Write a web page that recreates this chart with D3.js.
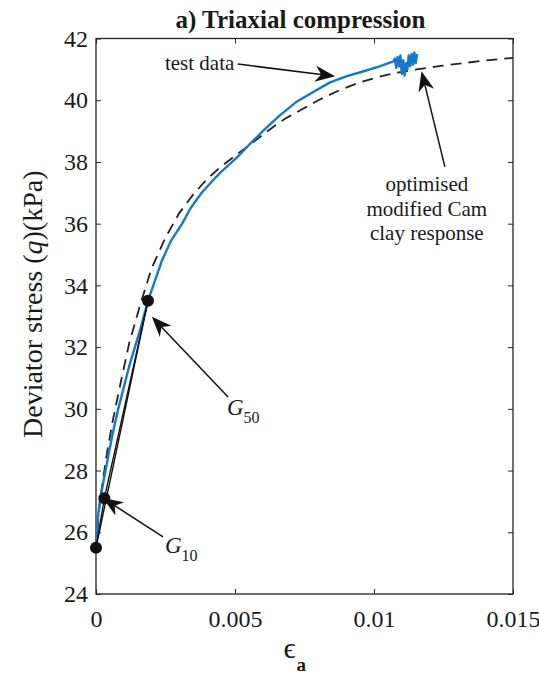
<!DOCTYPE html>
<html>
<head>
  <meta charset="utf-8">
  <script src="https://d3js.org/d3.v7.min.js"></script>
  <style>
    body { margin: 0; background: #fff; }
    text { font-family: "Liberation Serif", "DejaVu Serif", serif; fill: #1a1a1a; }
    .tick line { stroke: #262626; }
  </style>
</head>
<body>
<div id="chart"></div>
<script>
  // test data (blue curve): axial strain and deviator stress
  var testEps = [0, 0.00005, 0.00012, 0.0002, 0.0003, 0.00045, 0.0006, 0.0008, 0.001, 0.0012,
    0.0014, 0.0016, 0.00187, 0.0021, 0.00237, 0.0027, 0.0031, 0.0034, 0.0038, 0.0042,
    0.0045, 0.0048, 0.0051, 0.0055, 0.006, 0.0066, 0.0072, 0.0078, 0.0084, 0.009,
    0.0096, 0.0102, 0.0107, 0.01075, 0.0108, 0.01085, 0.0109, 0.01095, 0.011, 0.01105,
    0.0111, 0.01115, 0.0112, 0.01125, 0.0113, 0.01135, 0.0114, 0.01145, 0.0115, 0.01155];
  var testQ = [25.5, 26.3, 26.9, 27.3, 27.8, 28.5, 29.2, 30.0, 30.7, 31.4,
    32.0, 32.6, 33.5, 34.1, 34.8, 35.45, 36.0, 36.5, 37.0, 37.4,
    37.68, 37.92, 38.17, 38.55, 39.0, 39.5, 39.94, 40.26, 40.57, 40.77,
    40.93, 41.1, 41.26, 41.35, 41.05, 41.4, 41.1, 41.45, 40.85, 41.3,
    40.8, 41.2, 41.0, 41.45, 41.1, 41.5, 41.15, 41.55, 41.2, 41.5];

  // optimised modified Cam clay response (dashed)
  var modelEps = [0, 0.0001, 0.0002, 0.0004, 0.0006, 0.0009, 0.0012, 0.0016, 0.002, 0.0025,
    0.003, 0.0035, 0.004, 0.0045, 0.005, 0.0056, 0.0062, 0.0068, 0.0074, 0.008,
    0.0087, 0.0094, 0.0101, 0.0108, 0.0116, 0.0124, 0.0132, 0.014, 0.015];
  var modelQ = [25.5, 26.6, 27.4, 28.6, 29.6, 30.9, 32.15, 33.4, 34.55, 35.55,
    36.35, 36.95, 37.45, 37.85, 38.2, 38.6, 39.02, 39.4, 39.7, 40.0,
    40.3, 40.55, 40.74, 40.89, 41.01, 41.11, 41.2, 41.29, 41.37];

  // secant stiffness points: start, G10, G50
  var pointEps = [0, 0.0003, 0.00187];
  var pointQ = [25.5, 27.1, 33.5];

  var xTicks = [0, 0.005, 0.01, 0.015];
  var xTickLabels = ["0", "0.005", "0.01", "0.015"];
  var yTicks = [24, 26, 28, 30, 32, 34, 36, 38, 40, 42];

  var W = 539, H = 677;
  var margin = {left: 96, top: 38.5, right: 26, bottom: 83};

  var svg = d3.select("#chart").append("svg")
    .attr("width", W)
    .attr("height", H);

  var x = d3.scaleLinear().domain([0, 0.015]).range([margin.left, W - margin.right]);
  var y = d3.scaleLinear().domain([24, 42]).range([H - margin.bottom, margin.top]);

  var x0 = x.range()[0], x1 = x.range()[1], y0 = y.range()[0], y1 = y.range()[1];

  // axes, ticks pointing inwards on all four sides
  var gx = svg.append("g").attr("transform", "translate(0," + y0 + ")")
    .call(d3.axisBottom(x).tickValues(xTicks).tickSize(-5).tickPadding(16)
      .tickFormat(function (d, i) {return xTickLabels[i];}));
  gx.selectAll("text").attr("font-size", 24).attr("dy", "0.71em")
    .style("font-family", '"Liberation Serif", serif');

  var gy = svg.append("g").attr("transform", "translate(" + x0 + ",0)")
    .call(d3.axisLeft(y).tickValues(yTicks).tickSize(-5).tickPadding(8));
  gy.selectAll("text").attr("font-size", 24)
    .style("font-family", '"Liberation Serif", serif');

  svg.append("g").attr("transform", "translate(0," + y1 + ")")
    .call(d3.axisTop(x).tickValues(xTicks).tickSize(-5).tickFormat(""));
  svg.append("g").attr("transform", "translate(" + x1 + ",0)")
    .call(d3.axisRight(y).tickValues(yTicks).tickSize(-5).tickFormat(""));

  svg.selectAll(".domain").remove();
  svg.selectAll(".tick line").attr("stroke", "#262626").attr("stroke-width", 1);

  // frame
  svg.append("rect")
    .attr("x", x0).attr("y", y1)
    .attr("width", x1 - x0).attr("height", y0 - y1)
    .attr("fill", "none").attr("stroke", "#262626").attr("stroke-width", 1.3);

  var line = d3.line()
    .x(function (d) {return x(d[0]);})
    .y(function (d) {return y(d[1]);});

  var testData = testEps.map(function (e, i) {return [e, testQ[i]];});
  var modelData = modelEps.map(function (e, i) {return [e, modelQ[i]];});

  svg.append("path")
    .datum(modelData)
    .attr("d", line)
    .attr("fill", "none")
    .attr("stroke", "#222")
    .attr("stroke-width", 1.8)
    .attr("stroke-dasharray", "11,7");

  svg.append("path")
    .datum(testData)
    .attr("d", line)
    .attr("fill", "none")
    .attr("stroke", "#1479cc")
    .attr("stroke-width", 2.4)
    .attr("stroke-linejoin", "round");

  // secant lines
  var secants = [[0, 1], [0, 2], [1, 2]];
  svg.selectAll(".secant")
    .data(secants)
    .enter().append("line")
    .attr("class", "secant")
    .attr("x1", function (d) {return x(pointEps[d[0]]);})
    .attr("y1", function (d) {return y(pointQ[d[0]]);})
    .attr("x2", function (d) {return x(pointEps[d[1]]);})
    .attr("y2", function (d) {return y(pointQ[d[1]]);})
    .attr("stroke", "#111")
    .attr("stroke-width", 1.4);

  svg.selectAll(".pt")
    .data(pointEps)
    .enter().append("circle")
    .attr("class", "pt")
    .attr("cx", function (d) {return x(d);})
    .attr("cy", function (d, i) {return y(pointQ[i]);})
    .attr("r", 6)
    .attr("fill", "#111");

  // annotation arrows: [tailEps, tailQ, tipEps, tipQ]
  var arrows = [
    [0.0051, 41.17, 0.0086, 40.78],
    [0.01255, 37.84, 0.01171, 40.94],
    [0.00475, 30.38, 0.00201, 32.98],
    [0.00241, 25.85, 0.00025, 27.11]
  ];

  function drawArrow(a) {
    var tx = x(a[0]), ty = y(a[1]), hx = x(a[2]), hy = y(a[3]);
    var dx = hx - tx, dy = hy - ty, len = Math.sqrt(dx * dx + dy * dy);
    var ux = dx / len, uy = dy / len, nx = -uy, ny = ux;
    var L = 20, Wd = 8, notch = 6;
    var bx = hx - (L - notch) * ux, by = hy - (L - notch) * uy;
    svg.append("line")
      .attr("x1", tx).attr("y1", ty).attr("x2", bx).attr("y2", by)
      .attr("stroke", "#111").attr("stroke-width", 1.5);
    var pts = [
      [hx, hy],
      [hx - L * ux + Wd * nx, hy - L * uy + Wd * ny],
      [bx, by],
      [hx - L * ux - Wd * nx, hy - L * uy - Wd * ny]
    ];
    svg.append("path")
      .attr("d", "M" + pts.map(function (p) {return p[0] + "," + p[1];}).join("L") + "Z")
      .attr("fill", "#111");
  }
  arrows.forEach(drawArrow);

  // annotation texts
  svg.append("text")
    .attr("x", x(0.00248)).attr("y", y(40.98))
    .attr("font-size", 21)
    .text("test data");

  var modelLines = ["optimised", "modified Cam", "clay response"];
  var modelLineQ = [37.06, 36.25, 35.47];
  svg.selectAll(".mtext")
    .data(modelLines)
    .enter().append("text")
    .attr("class", "mtext")
    .attr("x", x(0.0119))
    .attr("y", function (d, i) {return y(modelLineQ[i]);})
    .attr("text-anchor", "middle")
    .attr("font-size", 21)
    .text(function (d) {return d;});

  function gLabel(eps, q, sub) {
    var t = svg.append("text")
      .attr("x", x(eps)).attr("y", y(q))
      .attr("font-size", 23);
    t.append("tspan").attr("font-style", "italic").text("G");
    t.append("tspan").attr("font-size", 16).attr("dy", 8).text(sub);
  }
  gLabel(0.00471, 29.8, "50");
  gLabel(0.00248, 25.33, "10");

  // title
  svg.append("text")
    .attr("x", (x0 + x1) / 2 - 4).attr("y", 28)
    .attr("text-anchor", "middle")
    .attr("font-size", 25)
    .attr("font-weight", "bold")
    .text("a) Triaxial compression");

  // y label
  var yl = svg.append("text")
    .attr("transform", "translate(42," + ((y0 + y1) / 2 - 12) + ") rotate(-90)")
    .attr("text-anchor", "middle")
    .attr("font-size", 28);
  yl.append("tspan").text("Deviator stress (");
  yl.append("tspan").attr("font-style", "italic").text("q");
  yl.append("tspan").text(")(kPa)");

  // x label
  svg.append("text")
    .attr("x", (x0 + x1) / 2 - 21).attr("y", 658)
    .attr("font-size", 30)
    .text("\u03F5");
  svg.append("text")
    .attr("x", (x0 + x1) / 2 - 8).attr("y", 671)
    .attr("font-size", 19)
    .attr("font-weight", "bold")
    .text("a");
</script>
</body>
</html>
